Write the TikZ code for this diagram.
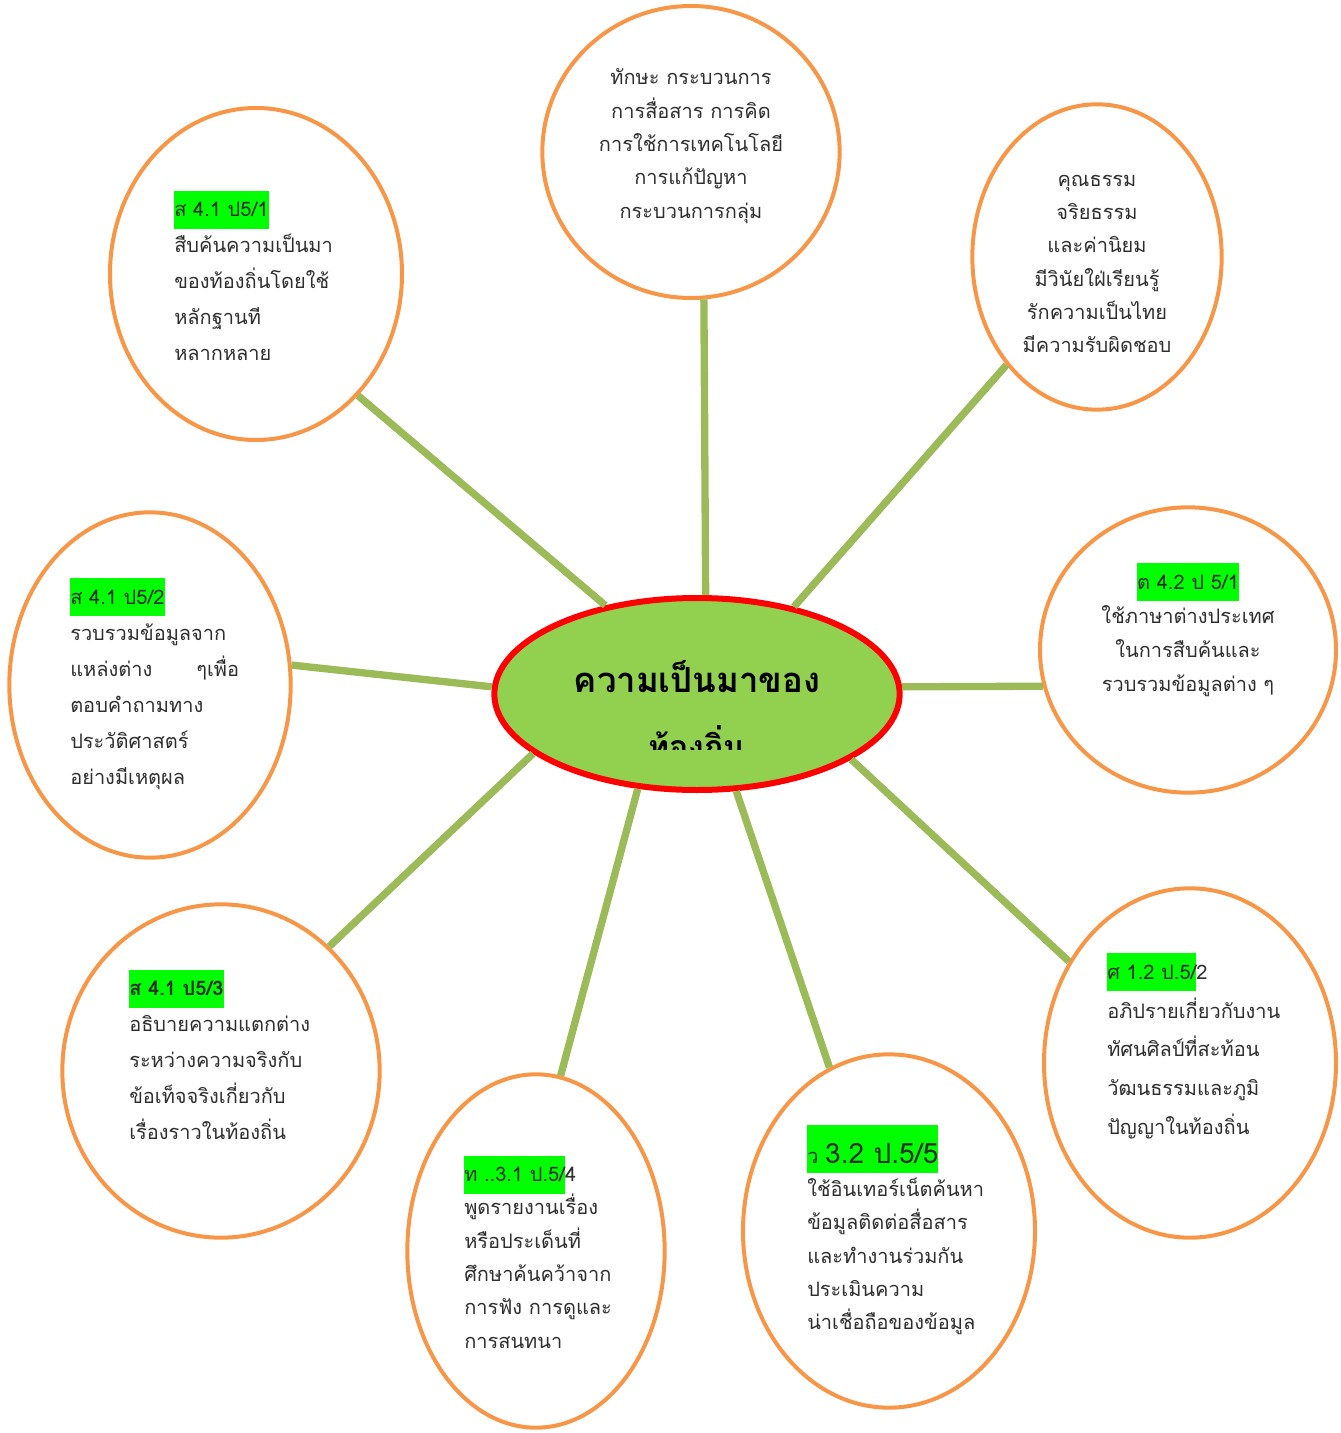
\documentclass[tikz,border=0pt]{standalone}
\usepackage{fontspec}
\usepackage{xcolor}
\newfontfamily\thaifont[Script=Thai]{Loma}
\usepackage{tikz}
\usetikzlibrary{shapes.geometric}
\definecolor{ringorange}{HTML}{F79646}
\definecolor{linkgreen}{HTML}{9BBB59}
\definecolor{hubgreen}{HTML}{92D050}
\definecolor{hlgreen}{HTML}{00FF00}
\definecolor{inkgray}{HTML}{2E2E2E}
\newcommand{\hlbox}[1]{{\setlength{\fboxsep}{0pt}\colorbox{hlgreen}{\rule[-0.6em]{0pt}{1.9em}#1}}}

\begin{document}
\begin{tikzpicture}[
		x=0.75pt,y=-0.75pt,
		ring/.style={ellipse,draw=ringorange,line width=3pt,inner sep=0pt},
		hub/.style={ellipse,draw=red,fill=hubgreen,line width=4.5pt,inner sep=0pt},
		link/.style={draw=linkgreen,line width=5.5pt},
		txt/.style={font=\thaifont\fontsize{15}{27}\selectfont,text=inkgray,inner sep=0pt},
		txtl/.style={txt,align=left,anchor=west},
		txtc/.style={txt,align=center}]
	\useasboundingbox (0,0) rectangle (1340,1433);
	%% ellipses
	\node[hub] (hub) at (697,694) [minimum width=304pt,minimum height=144pt] {};
	\node[ring] (tl) at (256,274) [minimum width=219pt,minimum height=249pt] {};
	\node[ring] (top) at (691,152) [minimum width=223pt,minimum height=219pt] {};
	\node[ring] (tr) at (1097,257) [minimum width=187pt,minimum height=229pt] {};
	\node[ring] (ml) at (150,685) [minimum width=211pt,minimum height=259pt] {};
	\node[ring] (mr) at (1188,650) [minimum width=222pt,minimum height=214pt] {};
	\node[ring] (bl) at (221,1071) [minimum width=238pt,minimum height=250pt] {};
	\node[ring] (bcl) at (536,1251) [minimum width=193pt,minimum height=265pt] {};
	\node[ring] (bcr) at (889,1231) [minimum width=219pt,minimum height=265pt] {};
	\node[ring] (br) at (1190,1063) [minimum width=219pt,minimum height=262pt] {};
	%% connectors
	\draw[link] (hub.136.7) -- (tl.-50.7);
	\draw[link] (hub.85.9) -- (top.-85.1);
	\draw[link] (hub.42.2) -- (tr.-130.2);
	\draw[link] (hub.178) -- (ml.8.3);
	\draw[link] (hub.2.2) -- (mr.-166.5);
	\draw[link] (hub.-160) -- (bl.49);
	\draw[link] (hub.-122) -- (bcl.82.8);
	\draw[link] (hub.-68.3) -- (bcr.110.3);
	\draw[link] (hub.-23.2) -- (br.140.5);
	%% title
	\node (title1) at (697,677) [font=\thaifont\fontsize{26}{30}\selectfont\bfseries] {ความเป็นมาของ};
	\begin{scope}
		\clip (560,700) rectangle (840,749);
		\node (title2) at (697,742) [font=\thaifont\fontsize{24}{30}\selectfont\bfseries] {ท้องถิ่น};
	\end{scope}
	%% texts
	\node[txtl] (tltext) at (174,276) {\hlbox{ส 4.1 ป5/1}\\สืบค้นความเป็นมา\\ของท้องถิ่นโดยใช้\\หลักฐานที\\หลากหลาย};
	\node[txtc,font=\thaifont\fontsize{15}{25}\selectfont] (toptext) at (691,146) {ทักษะ กระบวนการ\\การสื่อสาร การคิด\\การใช้การเทคโนโลยี\\การแก้ปัญหา\\กระบวนการกลุ่ม};
	\node[txtc,font=\thaifont\fontsize{15}{25}\selectfont] (trtext) at (1097,264) {คุณธรรม\\จริยธรรม\\และค่านิยม\\มีวินัยใฝ่เรียนรู้\\รักความเป็นไทย\\มีความรับผิดชอบ};
	\node[txtl] (mltext) at (70,684) {\hlbox{ส 4.1 ป5/2}\\รวบรวมข้อมูลจาก\\แหล่งต่าง\hspace{2.2em}ๆเพื่อ\\ตอบคำถามทาง\\ประวัติศาสตร์\\อย่างมีเหตุผล};
	\node[txtc,font=\thaifont\fontsize{15}{25.5}\selectfont] (mrtext) at (1188,630) {\hlbox{ต 4.2 ป 5/1}\\ใช้ภาษาต่างประเทศ\\ในการสืบค้นและ\\รวบรวมข้อมูลต่าง ๆ};
	\node[txtl] (bltext) at (129,1055) {\hlbox{\bfseries ส 4.1 ป5/3}\\อธิบายความแตกต่าง\\ระหว่างความจริงกับ\\ข้อเท็จจริงเกี่ยวกับ\\เรื่องราวในท้องถิ่น};
	\node[txtl,font=\thaifont\fontsize{15}{25}\selectfont] (bcltext) at (464,1252) {\hlbox{ท ..3.1 ป.5/}4\\พูดรายงานเรื่อง\\หรือประเด็นที่\\ศึกษาค้นคว้าจาก\\การฟัง การดูและ\\การสนทนา};
	\node[txtl,font=\thaifont\fontsize{15}{25}\selectfont] (bcrtext) at (807,1230) {{\setlength{\fboxsep}{0pt}\colorbox{hlgreen}{\rule[-0.5em]{0pt}{2.4em}ว {\fontsize{21}{25}\selectfont 3.2 ป.5/5}}}\\ใช้อินเทอร์เน็ตค้นหา\\ข้อมูลติดต่อสื่อสาร\\และทำงานร่วมกัน\\ประเมินความ\\น่าเชื่อถือของข้อมูล};
	\node[txtl,font=\thaifont\fontsize{15}{29}\selectfont] (brtext) at (1107,1046) {\hlbox{ศ 1.2 ป.5/}2\\อภิปรายเกี่ยวกับงาน\\ทัศนศิลป์ที่สะท้อน\\วัฒนธรรมและภูมิ\\ปัญญาในท้องถิ่น};
\end{tikzpicture}
\end{document}
